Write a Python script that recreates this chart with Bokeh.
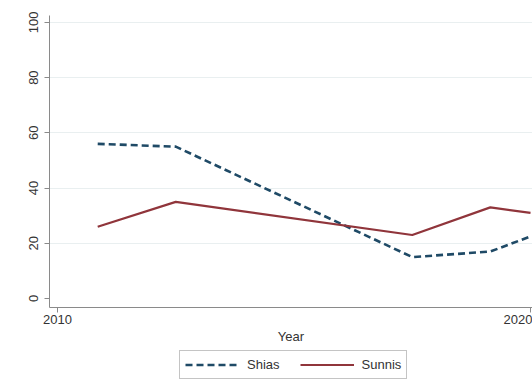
from bokeh.plotting import figure
from bokeh.layouts import column
from bokeh.models import Range1d, FixedTicker, Legend, LegendItem
from bokeh.embed import file_html
from bokeh.resources import INLINE

# Data
years = [2010.85, 2012.5, 2017.5, 2019.15, 2020.0]
shias = [56, 55, 15, 17, 22.5]
sunnis = [26, 35, 23, 33, 31]
y_ticks = [0, 20, 40, 60, 80, 100]
x_ticks = [2010, 2020]
series_names = ["Shias", "Sunnis"]

FONT = "Liberation Sans"
FS = "13px"
SHIA_COLOR = "#1f4a66"
SUNNI_COLOR = "#90353b"
AXIS_COLOR = "#8a8a8a"
SHIA_STYLE = dict(line_color=SHIA_COLOR, line_width=2.6, line_dash="7 4")
SUNNI_STYLE = dict(line_color=SUNNI_COLOR, line_width=2.2)

p = figure(width=532, height=350, output_backend="svg", toolbar_location=None,
           x_range=Range1d(2009.831, 2020.042), y_range=Range1d(-3.26, 102.5),
           min_border_left=49, min_border_right=0, min_border_top=15,
           min_border_bottom=43, background_fill_color="white",
           border_fill_color="white", outline_line_color=None)

p.line(years, shias, **SHIA_STYLE)
p.line(years, sunnis, **SUNNI_STYLE)

p.xgrid.visible = False
p.ygrid.ticker = FixedTicker(ticks=[20, 40, 60, 80, 100])
p.ygrid.grid_line_color = "#e9eff0"
p.ygrid.grid_line_width = 1

for ax in (p.xaxis[0], p.yaxis[0]):
    ax.axis_line_color = AXIS_COLOR
    ax.major_tick_line_color = AXIS_COLOR
    ax.minor_tick_line_color = None
    ax.major_tick_in = 0
    ax.major_tick_out = 5
    ax.major_label_text_font = FONT
    ax.major_label_text_font_size = FS
    ax.major_label_text_color = "#333333"

p.yaxis.ticker = FixedTicker(ticks=y_ticks)
p.yaxis.major_label_orientation = "vertical"
p.yaxis.major_label_standoff = 6

p.xaxis.ticker = FixedTicker(ticks=x_ticks)
p.xaxis.major_label_standoff = 2
p.xaxis.axis_label = "Year"
p.xaxis.axis_label_text_font = FONT
p.xaxis.axis_label_text_font_size = FS
p.xaxis.axis_label_text_font_style = "normal"
p.xaxis.axis_label_text_color = "#333333"
p.xaxis.axis_label_standoff = 2

# Separate strip holding the legend below the chart
lg = figure(width=532, height=36, output_backend="svg", toolbar_location=None,
            x_range=Range1d(0, 1), y_range=Range1d(0, 1),
            x_axis_location=None, y_axis_location=None,
            min_border=0, outline_line_color=None,
            background_fill_color="white", border_fill_color="white")
lg.xgrid.visible = False
lg.ygrid.visible = False
# legend-only renderers, drawn outside the visible range
d1 = lg.line([-5, -4], [-5, -5], **SHIA_STYLE)
d2 = lg.line([-5, -4], [-5, -5], **SUNNI_STYLE)

legend = Legend(items=[LegendItem(label=series_names[0], renderers=[d1]),
                       LegendItem(label=series_names[1], renderers=[d2])],
                orientation="horizontal", location=(130, 7),
                label_text_font=FONT, label_text_font_size=FS,
                label_text_color="#333333",
                border_line_color="#8a8a8a", border_line_width=1,
                padding=5, spacing=20, glyph_width=54, glyph_height=17,
                label_standoff=8, margin=0, background_fill_color="white")
lg.add_layout(legend, "center")

layout = column(p, lg, spacing=0)
open("out.html", "w").write(file_html(layout, INLINE))
